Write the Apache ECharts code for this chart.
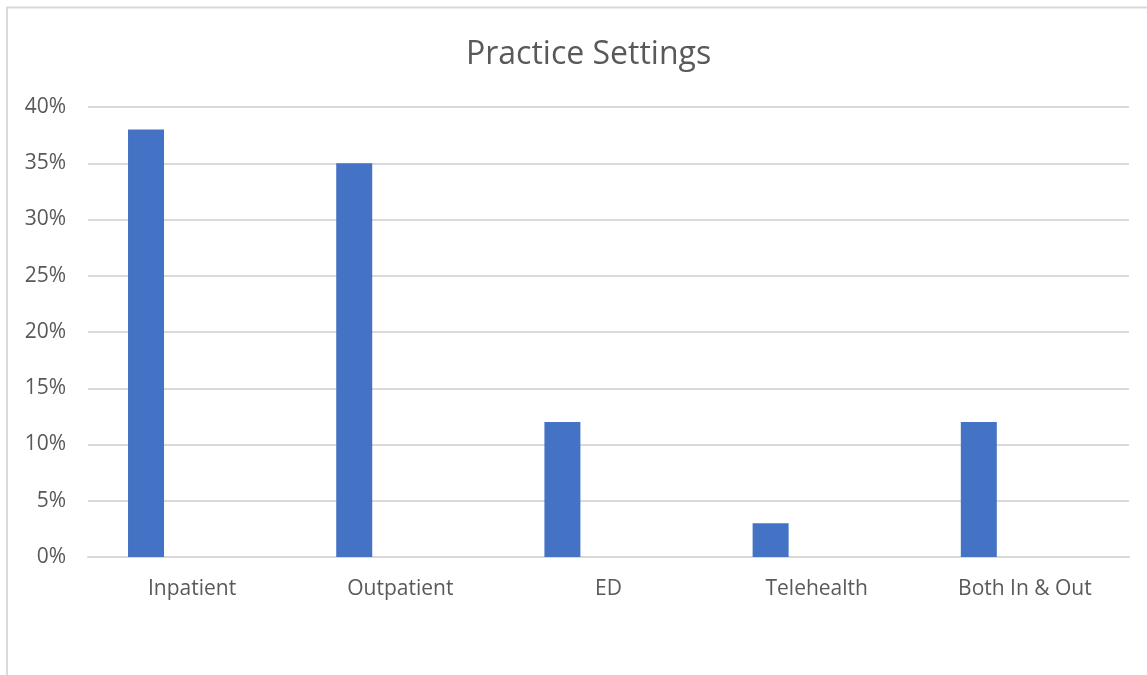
<!DOCTYPE html>
<html>
<head>
<meta charset="utf-8">
<script src="https://cdn.jsdelivr.net/npm/echarts@6/dist/echarts.min.js"></script>
<style>
    html, body { margin: 0; padding: 0; background: #fff; }
    #chart { width: 1147px; height: 675px; }
</style>
</head>
<body>
<div id="chart"></div>
<script>
// categories and values (fractions)
const categories = ['Inpatient', 'Outpatient', 'ED', 'Telehealth', 'Both In & Out'];
const shares = [0.38, 0.35, 0.12, 0.03, 0.12];
// second (empty) series, as in the original sheet, pushes the bars left
const emptySeries = [null, null, null, null, null];
const yTicks = [0, 0.05, 0.10, 0.15, 0.20, 0.25, 0.30, 0.35, 0.40];

let chart = echarts.init(document.getElementById('chart'));

const font = '"Open Sans", "Noto Sans", sans-serif';

let option = {
    backgroundColor: '#fff',
    animation: false,
    title: {
        text: 'Practice Settings',
        left: 461,
        top: 34,
        textStyle: {
            fontFamily: font,
            fontSize: 32,
            fontWeight: 'normal',
            color: '#595959'
        }
    },
    graphic: [{
        type: 'rect',
        shape: { x: 7, y: 7.5, width: 1200, height: 700 },
        style: { fill: 'none', stroke: '#d9d9d9', lineWidth: 2 },
        silent: true
    }],
    grid: {
        left: 88,
        right: 18,
        top: 107,
        bottom: 118
    },
    xAxis: {
        type: 'category',
        data: categories,
        axisTick: { show: false },
        axisLine: { lineStyle: { color: '#d9d9d9', width: 2 } },
        axisLabel: {
            margin: 22,
            fontFamily: font,
            fontSize: 21,
            color: '#595959'
        }
    },
    yAxis: {
        type: 'value',
        min: yTicks[0],
        max: yTicks[yTicks.length - 1],
        interval: 0.05,
        axisLine: { show: false },
        axisTick: { show: false },
        splitLine: { lineStyle: { color: '#d9d9d9', width: 2 } },
        axisLabel: {
            margin: 22,
            fontFamily: font,
            fontSize: 21,
            color: '#595959',
            formatter: function (v) { return Math.round(v * 100) + '%'; }
        }
    },
    series: [{
        name: 'Share',
        type: 'bar',
        data: shares,
        barWidth: 36,
        barGap: '156%',
        itemStyle: { color: '#4472c4' }
    }, {
        name: 'Blank',
        type: 'bar',
        data: emptySeries,
        barWidth: 36,
        itemStyle: { color: '#ed7d31' }
    }]
};

chart.setOption(option);
</script>
</body>
</html>
